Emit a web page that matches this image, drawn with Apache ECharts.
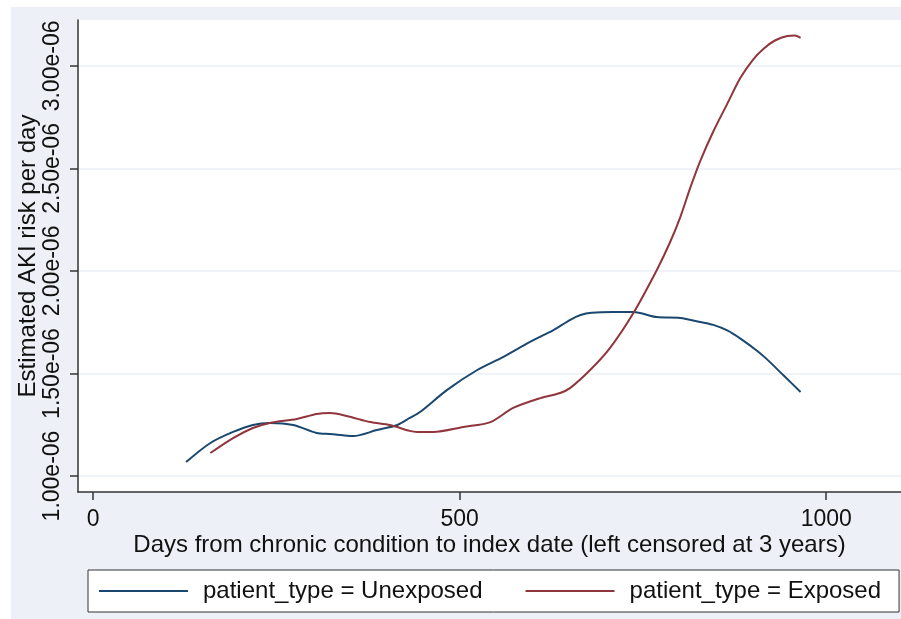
<!DOCTYPE html>
<html><head><meta charset="utf-8">
<script src="https://cdn.jsdelivr.net/npm/echarts@6/dist/echarts.min.js"></script>
<style>html,body{margin:0;padding:0;background:#fff}#c{width:901px;height:619px}</style>
</head><body><div id="c"></div>
<script>
const seriesNames = ['patient_type = Unexposed', 'patient_type = Exposed'];
const unexposedDays = [127,160,191,218,241,273,305,323,355,387,415,432,446,483,524,559,596,628,651,665,680,709,737,769,801,828,846,865,883,906,919,942,965];
const unexposedRisk = [1.068e-6,1.161e-6,1.215e-6,1.249e-6,1.259e-6,1.249e-6,1.21e-6,1.205e-6,1.195e-6,1.224e-6,1.249e-6,1.283e-6,1.312e-6,1.42e-6,1.517e-6,1.58e-6,1.654e-6,1.712e-6,1.762e-6,1.785e-6,1.796e-6,1.8e-6,1.8e-6,1.775e-6,1.771e-6,1.751e-6,1.737e-6,1.71e-6,1.67e-6,1.61e-6,1.57e-6,1.49e-6,1.41e-6];
const exposedDays = [160,191,218,241,278,305,323,346,378,405,432,442,464,505,542,573,610,637,651,678,705,737,769,787,801,815,828,846,865,883,900,915,930,947,957,965];
const exposedRisk = [1.112e-6,1.185e-6,1.234e-6,1.259e-6,1.278e-6,1.302e-6,1.307e-6,1.293e-6,1.263e-6,1.249e-6,1.22e-6,1.215e-6,1.215e-6,1.239e-6,1.263e-6,1.332e-6,1.38e-6,1.405e-6,1.43e-6,1.517e-6,1.624e-6,1.795e-6,2.005e-6,2.14e-6,2.263e-6,2.41e-6,2.535e-6,2.68e-6,2.815e-6,2.942e-6,3.03e-6,3.085e-6,3.124e-6,3.146e-6,3.148e-6,3.137e-6];
const xTicks = [0, 500, 1000];
const yTicks = [1.0e-6, 1.5e-6, 2.0e-6, 2.5e-6, 3.0e-6];

const FONT = '"Liberation Sans", Arial, sans-serif';
const chart = echarts.init(document.getElementById('c'), null, {renderer: 'canvas'});
const pair = (xs, ys) => xs.map((x, i) => [x, ys[i]]);
chart.setOption({
  backgroundColor: '#ffffff',
  animation: false,
  textStyle: {fontFamily: FONT},
  graphic: [{type: 'rect', z: -10, shape: {x: 11, y: 7, width: 890, height: 612}, style: {fill: '#edf1f7'}, silent: true}],
  grid: {left: 78, top: 20, right: 0, bottom: 127, show: true, backgroundColor: '#ffffff', borderWidth: 0},
  legend: {
    left: 88, top: 570, orient: 'horizontal',
    data: seriesNames,
    icon: 'rect', itemWidth: 89, itemHeight: 2, itemGap: 43,
    backgroundColor: '#ffffff', borderColor: '#333', borderWidth: 1,
    padding: [9, 18, 9, 11],
    textStyle: {fontSize: 24, color: '#111', fontFamily: FONT, padding: [0, 0, 0, 10]}
  },
  xAxis: {
    type: 'value', min: -20.5, max: 1102,
    name: 'Days from chronic condition to index date (left censored at 3 years)',
    nameLocation: 'middle', nameGap: 41, nameMoveOverlap: false,
    nameTextStyle: {fontSize: 24, color: '#111', fontFamily: FONT},
    axisLine: {show: true, onZero: false, lineStyle: {color: '#333', width: 1.5}},
    axisTick: {show: true, length: 8, customValues: xTicks, lineStyle: {color: '#333', width: 1.5}},
    axisLabel: {customValues: xTicks, fontSize: 23, color: '#111', margin: 16, fontFamily: FONT,
      formatter: v => String(Math.round(v))},
    splitLine: {show: false}
  },
  yAxis: {
    type: 'value', min: 0.922e-6, max: 3.224e-6,
    name: 'Estimated AKI risk per day',
    nameLocation: 'middle', nameGap: 38, nameRotate: 90, nameMoveOverlap: false,
    nameTextStyle: {fontSize: 24, color: '#111', fontFamily: FONT},
    axisLine: {show: true, onZero: false, lineStyle: {color: '#333', width: 1.5}},
    axisTick: {show: true, length: 8, customValues: yTicks, lineStyle: {color: '#333', width: 1.5}},
    axisLabel: {customValues: yTicks, rotate: 90, fontSize: 23, color: '#111', margin: 14, fontFamily: FONT,
      formatter: v => (v * 1e6).toFixed(2) + 'e-06'},
    splitLine: {show: true, lineStyle: {color: '#eaeef4', width: 1.5}}
  },
  series: [
    {name: seriesNames[0], type: 'line', data: pair(unexposedDays, unexposedRisk), smooth: 0.3, showSymbol: false,
     lineStyle: {color: '#1a476f', width: 2}, itemStyle: {color: '#1a476f'}},
    {name: seriesNames[1], type: 'line', data: pair(exposedDays, exposedRisk), smooth: 0.3, showSymbol: false,
     lineStyle: {color: '#90353b', width: 2}, itemStyle: {color: '#90353b'}}
  ]
});
</script></body></html>
